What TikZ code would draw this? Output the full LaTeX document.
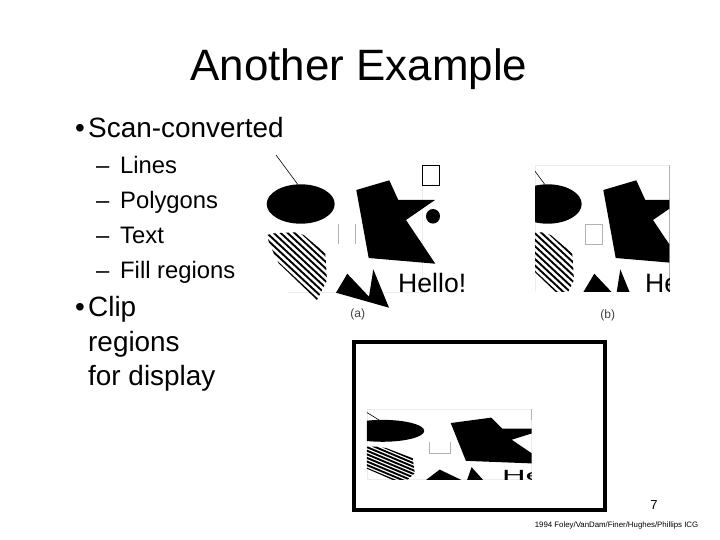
\documentclass[tikz,border=0pt]{standalone}
\usepackage{fontspec}
\setmainfont{Liberation Sans}
\usepackage{tikz}
\tikzset{
solid shape/.style={fill=black, draw=none},
edge line/.style={draw=gray!60, line width=0.6pt},
window line/.style={draw=gray!15, line width=0.6pt},
title text/.style={anchor=base, font=\fontsize{43.9}{50}\selectfont},
bullet text/.style={anchor=base west, inner sep=0pt, font=\fontsize{27.9}{34}\selectfont},
sub text/.style={anchor=base west, inner sep=0pt, font=\fontsize{23.8}{28}\selectfont},
caption text/.style={anchor=base, text=black!75, font=\fontsize{12}{14}\selectfont},
}
\newcommand{\panelshapes}[1]{
\draw[line width=0.6pt] (276,155) -- (297.7,184.3);
\path[solid shape] (300.7,204) ellipse [x radius=34, y radius=19.7];
\path[solid shape] (356.3,190) -- (389.3,180.3) -- (398.3,200) -- (435,200) -- (406,220) -- (435.3,263.7) -- (368.7,258) -- cycle;
\begin{scope}
\clip (267,235) -- (273.7,233.3) -- (295.3,232.3) -- (303.7,235) -- (325.3,253.3) -- (327,280) -- (317,300) -- (278.7,263.3) -- (273.7,253.3) -- (268.7,241.7) -- cycle;
\foreach \y in {0,...,8}
\draw[line width=1.9pt] (260,194.4+6.45*\y) -- (340,268.8+6.45*\y);
\end{scope}
\path[solid shape] (347.3,273.7) -- (369,296.7) -- (373.3,269.3) -- (389,307.7) -- (336,292.7) -- cycle;
\node[anchor=base west, inner sep=0pt, transform shape, font=\fontsize{26.6}{30}\selectfont] (hello#1) at (398,292.7) {Hello!};
}
\begin{document}
\begin{tikzpicture}[x=1pt, y=-1pt]
\useasboundingbox (0,0) rectangle (720,540);
% slide text
\node[title text] (title) at (359,80.5) {Another Example};
\node[bullet text] (bulletA) at (75,138) {•};
\node[bullet text] (scan) at (88,138) {Scan-converted};
\foreach \lab/\y/\nm in {Lines/174/lines, Polygons/209/polygons, Text/243.5/text, Fill regions/278/fill} {
\node[sub text] (dash\nm) at (96,\y) {–};
\node[sub text] (\nm) at (120,\y) {\lab};
}
\node[bullet text] (bulletB) at (75,316) {•};
\foreach \lab/\y/\nm in {Clip/316/clipword, regions/351/regions, for display/385/display}
\node[bullet text] (\nm) at (88,\y) {\lab};
% panel (a)
\draw[window line] (288,292.7) -- (422.3,292.7) -- (422.3,185);
\panelshapes{a}
\draw[line width=0.6pt] (422.3,165.3) rectangle (439.7,185.3);
\path[solid shape] (433,216.3) ellipse [x radius=7, y radius=7.3];
\draw[edge line] (338.7,224) -- (338.7,244) (355.7,224) -- (355.7,244);
\node[caption text] (capA) at (357.7,317.5) {(a)};
% panel (b)
\begin{scope}[xshift=247pt]
\draw[window line] (288,291.3) -- (288,165.3) -- (422.3,165.3);
\draw[edge line] (422.3,165.3) -- (422.3,291.3);
\begin{scope}
\clip (288,165.3) rectangle (422.3,291.3);
\panelshapes{b}
\end{scope}
\draw[edge line] (338.7,224) rectangle (355.7,244);
\end{scope}
\node[caption text] (capB) at (607.7,318) {(b)};
% panel (c)
\draw[line width=4pt] (354.3,342) rectangle (605.3,509.5);
\begin{scope}[xshift=13.9pt, yshift=-317.4pt, xscale=1.226, yscale=0.556]
\draw[window line] (288,165.3) rectangle (422.3,291.3);
\draw[edge line] (422.3,165.3) -- (422.3,185);
\begin{scope}
\clip (288,165.3) rectangle (422.3,291.3);
\panelshapes{c}
\end{scope}
\draw[edge line] (338.7,224) -- (338.7,244) -- (355.7,244) -- (355.7,224);
\end{scope}
% footer
\node[anchor=base, inner sep=0pt, font=\fontsize{13}{15}\selectfont] (pagenum) at (654,509) {7};
\node[anchor=base, inner sep=0pt, font=\fontsize{7.85}{10}\selectfont] (credit) at (616.5,527) {1994 Foley/VanDam/Finer/Hughes/Phillips ICG};
\end{tikzpicture}
\end{document}
